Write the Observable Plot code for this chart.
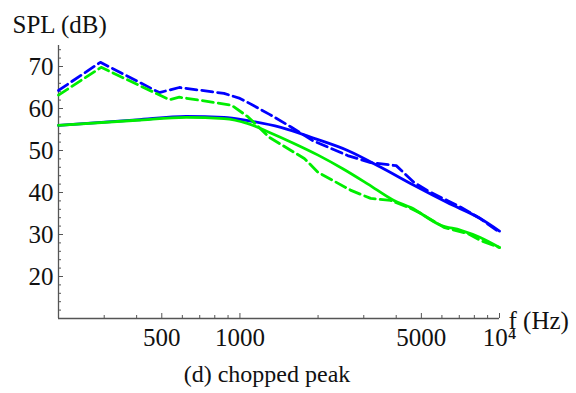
<!DOCTYPE html>
<html><head><meta charset="utf-8">
<script src="https://cdn.jsdelivr.net/npm/d3@7"></script>
<script src="https://cdn.jsdelivr.net/npm/@observablehq/plot@0.6"></script>
<style>body{margin:0;background:#fff}</style>
</head><body><div id="chart"></div>
<script>
// Frequencies (Hz) and SPL (dB)
const freqBlueDashed = [200, 290, 489, 584, 868, 1000, 1075, 1300, 1573, 1900, 2600, 3190, 4000, 4680, 5440, 6290, 7096, 8430, 10000];
const splBlueDashed  = [64.3, 71.0, 63.8, 65.0, 63.6, 62.4, 61.4, 58.6, 55.6, 52.4, 48.8, 47.1, 46.4, 42.4, 40.0, 38.1, 36.5, 33.8, 30.5];

const freqGreenDashed = [200, 292, 535, 584, 928, 1075, 1300, 1573, 1770, 2000, 2679, 3190, 3810, 4557, 4980, 6105, 7550, 8430, 10000];
const splGreenDashed  = [63.2, 69.8, 62.1, 62.7, 60.8, 58.0, 53.1, 50.0, 48.1, 44.8, 40.5, 38.6, 38.1, 36.2, 35.0, 31.7, 30.2, 28.6, 26.9];

const freqBlueSolid = [200, 400, 621, 868, 1075, 1437, 1930, 2600, 3490, 4680, 6290, 8430, 10000];
const splBlueSolid  = [56.0, 57.3, 58.1, 57.9, 57.1, 55.5, 52.9, 50.0, 46.0, 41.7, 37.6, 33.8, 30.8];

const freqGreenSolid = [200, 400, 621, 868, 1075, 1300, 1600, 2000, 2500, 3114, 3920, 4557, 5944, 7096, 8430, 10000];
const splGreenSolid  = [56.0, 57.2, 57.9, 57.6, 56.4, 54.3, 51.8, 48.9, 45.6, 42.0, 38.1, 36.4, 32.2, 31.0, 29.3, 26.9];

// Ticks
const majorX = [500, 1000, 5000, 10000];
const majorXLabels = ["500", "1000", "5000", "10\u2074"];
const minorX = [300, 400, 600, 700, 800, 900, 2000, 3000, 4000, 6000, 7000, 8000, 9000];
const majorY = [20, 30, 40, 50, 60, 70];
const minorY = [12, 14, 16, 18, 22, 24, 26, 28, 32, 34, 36, 38, 42, 44, 46, 48, 52, 54, 56, 58, 62, 64, 66, 68, 72, 74];

const yLabel = "SPL (dB)";
const xLabel = "f (Hz)";
const caption = "(d) chopped peak";

const rows = (f, v) => f.map((x, i) => ({f: x, spl: v[i]}));

const FONT = "Liberation Serif";
const axisColor = "#555";
const frameH = 393 - 45 - 75;
const frameW = 576 - 58 - 77;

const chart = Plot.plot({
  width: 576, height: 393,
  marginTop: 45, marginBottom: 75, marginLeft: 58, marginRight: 77,
  style: {fontFamily: FONT, fontSize: "25px", background: "white", color: "#111"},
  x: {type: "log", domain: [200, 10000], axis: null},
  y: {domain: [10, 75], axis: null},
  marks: [
    Plot.ruleX([200], {stroke: axisColor, strokeWidth: 1.3}),
    Plot.ruleY([10], {stroke: axisColor, strokeWidth: 1.3}),
    Plot.tickX(minorX, {x: d => d, insetTop: frameH - 3, stroke: axisColor}),
    Plot.tickX(majorX, {x: d => d, insetTop: frameH - 5, stroke: axisColor}),
    Plot.tickY(minorY, {y: d => d, insetRight: frameW - 3, stroke: axisColor}),
    Plot.tickY(majorY, {y: d => d, insetRight: frameW - 5, stroke: axisColor}),
    Plot.text(majorX, {x: d => d, text: (d, i) => majorXLabels[i], frameAnchor: "bottom", lineAnchor: "top", dy: 10, fontSize: 25, fontFamily: FONT, fill: "#111"}),
    Plot.text(majorY, {y: d => d, text: d => String(d), frameAnchor: "left", textAnchor: "end", lineAnchor: "middle", dx: -5, fontSize: 25, fontFamily: FONT, fill: "#111"}),
    Plot.line(rows(freqBlueSolid, splBlueSolid), {x: "f", y: "spl", stroke: "#0000ff", strokeWidth: 2.8, curve: "monotone-x"}),
    Plot.line(rows(freqGreenSolid, splGreenSolid), {x: "f", y: "spl", stroke: "#00ee00", strokeWidth: 2.8, curve: "monotone-x"}),
    Plot.line(rows(freqBlueDashed, splBlueDashed), {x: "f", y: "spl", stroke: "#0000ff", strokeWidth: 2.8, strokeDasharray: "11,5"}),
    Plot.line(rows(freqGreenDashed, splGreenDashed), {x: "f", y: "spl", stroke: "#00ee00", strokeWidth: 2.8, strokeDasharray: "11,5"}),
    Plot.text([yLabel], {text: d => d, frameAnchor: "top-left", textAnchor: "start", lineAnchor: "bottom", dx: -46, dy: -13, fontSize: 25, fontFamily: FONT, fill: "#111"}),
    Plot.text([xLabel], {text: d => d, frameAnchor: "bottom-right", textAnchor: "start", lineAnchor: "middle", dx: 9, dy: 2, fontSize: 25, fontFamily: FONT, fill: "#111"}),
    Plot.text([caption], {text: d => d, frameAnchor: "bottom", textAnchor: "middle", lineAnchor: "bottom", dx: -12, dy: 63, fontSize: 24, fontFamily: FONT, fill: "#111"})
  ]
});
document.getElementById("chart").appendChild(chart);
</script>
</body></html>
